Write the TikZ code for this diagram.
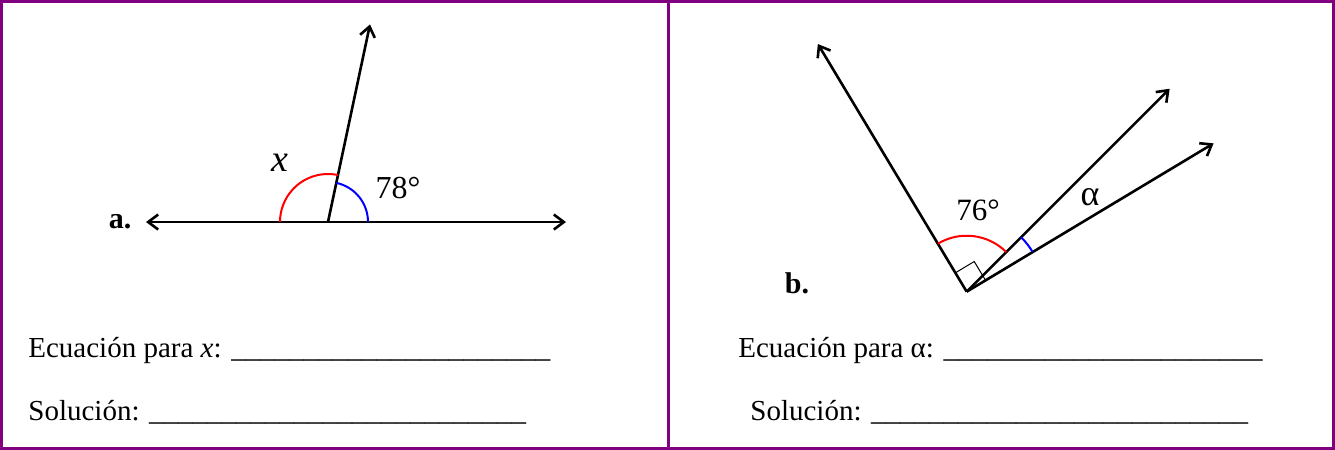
\documentclass[tikz,border=0pt]{standalone}
\definecolor{mPurple}{HTML}{800080}
\definecolor{mRed}{HTML}{FF0000}
\definecolor{mBlue}{HTML}{0000FF}
\usepackage{fontspec}
\setmainfont{Liberation Serif}
\usepackage{tikz}
\usetikzlibrary{arrows.meta,calc,angles}

\newcommand{\answerline}[1]{\foreach \k in {1,...,#1}{\_}}

\begin{document}
\begin{tikzpicture}[x=0.5pt, y=0.5pt, font=\fontsize{14.5}{18}\selectfont,
  ray/.style={line width=1.3pt, -{Straight Barb[length=5pt,width=7.5pt]}},
  twoway/.style={line width=1.3pt, {Straight Barb[length=5pt,width=7.5pt]}-{Straight Barb[length=5pt,width=7.5pt]}},
  frame/.style={draw=mPurple, line width=1.5pt},
  anglemark/.style={line width=1pt, angle radius=#1},
  answer/.style={anchor=base west, inner sep=0pt}]
\useasboundingbox (0,0) rectangle (1335,-450);
\draw[frame] (1.5,-1.5) rectangle (1333.5,-448.5);
\draw[frame] (668,-1.5) -- (668,-448.5);

\coordinate (va) at (328,-222);
\coordinate (va-left) at (146,-222);
\coordinate (va-right) at (566,-222);
\coordinate (va-up) at ($(va)+(78:202)$);
\draw[twoway] (va-left) -- (va-right);
\draw[ray] (va) -- (va-up);
\pic[draw=mRed, anglemark=24pt] {angle=va-up--va--va-left};
\pic[draw=mBlue, anglemark=20pt] {angle=va-right--va--va-up};
\node[font=\fontsize{19}{22}\selectfont\itshape] (xlabel) at (280,-163) {x};
\node[font=\fontsize{16}{19}\selectfont] (deg78) at (398,-188) {78°};
\node[font=\fontsize{15}{18}\selectfont\bfseries] (lbla) at (120,-222) {a.};

\coordinate (vb) at (966.7,-291.7);
\coordinate (vb-left) at ($(vb)+(121:289)$);
\coordinate (vb-mid) at ($(vb)+(45:287)$);
\coordinate (vb-low) at ($(vb)+(31:288)$);
\draw[ray] (vb) -- (vb-left);
\draw[ray] (vb) -- (vb-mid);
\draw[ray] (vb) -- (vb-low);
\pic[draw=mRed, anglemark=28pt] {angle=vb-mid--vb--vb-left};
\pic[draw=mBlue, anglemark=38.5pt] {angle=vb-low--vb--vb-mid};
\pic[draw, line width=0.5pt, angle radius=11pt] {right angle=vb-low--vb--vb-left};
\node[font=\fontsize{15.5}{18}\selectfont] (deg76) at (978,-210) {76°};
\node[font=\fontsize{18}{21}\selectfont] (alpha) at (1090,-197) {α};
\node[font=\fontsize{15}{18}\selectfont\bfseries] (lblb) at (797,-283) {b.};

\node[answer] (eqa) at (28,-357) {Ecuación para \textit{x}: \answerline{22}};
\node[answer] (sola) at (28,-420) {Solución: \answerline{26}};
\node[answer] (eqb) at (738,-357) {Ecuación para α: \answerline{22}};
\node[answer] (solb) at (750,-420) {Solución: \answerline{26}};
\end{tikzpicture}
\end{document}
